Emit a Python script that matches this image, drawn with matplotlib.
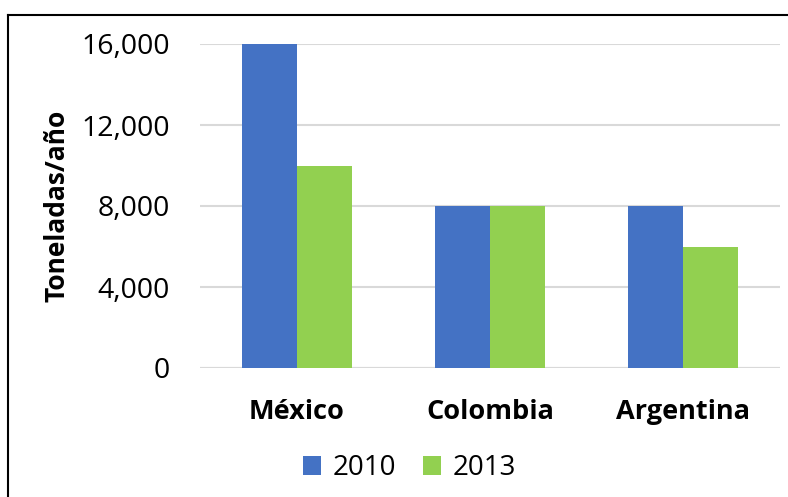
import matplotlib.pyplot as plt
import numpy as np
from matplotlib.lines import Line2D

paises = ['México', 'Colombia', 'Argentina']
anios = ['2010', '2013']
valores_2010 = [16000, 8000, 8000]
valores_2013 = [10000, 8000, 6000]
colores = ['#4472C4', '#92D050']
ticks_y = [0, 4000, 8000, 12000, 16000]

plt.rcParams['font.family'] = ['Open Sans', 'DejaVu Sans']

fig = plt.figure(figsize=(7.88, 4.97), dpi=100)
ax = fig.add_axes([200 / 788, 1 - 368 / 497, 580 / 788, 324 / 497])

x = np.arange(len(paises))
w = 0.285
ax.bar(x - w / 2, valores_2010, w, color=colores[0], label=anios[0], zorder=3)
ax.bar(x + w / 2, valores_2013, w, color=colores[1], label=anios[1], zorder=3)

ax.set_xlim(-0.5, 2.5)
ax.set_ylim(0, 16000)
ax.set_yticks(ticks_y)
ax.set_yticklabels(['{:,}'.format(v) for v in ticks_y], fontsize=20.5)
ax.set_xticks(x)
ax.set_xticklabels(paises, fontsize=19.5, fontweight='bold')
ax.tick_params(axis='y', length=0, pad=21.5)
ax.tick_params(axis='x', length=0, pad=22)
ax.grid(axis='y', color='#D9D9D9', linewidth=1.5, zorder=0)
for s in ax.spines.values():
    s.set_visible(False)
ax.axhline(0, color='#D9D9D9', linewidth=1.5, zorder=1)

ax.set_ylabel('Toneladas/año', fontsize=19, fontweight='bold', labelpad=8)

ax.legend(loc='center', bbox_to_anchor=(-80.5 / 580 + 0.5, -100 / 324), ncol=2,
          frameon=False, fontsize=20, handlelength=0.65, handleheight=0.65,
          handletextpad=0.4, columnspacing=0.97)

# marco exterior
fig.add_artist(Line2D([8 / 788, 8 / 788], [0, 1 - 15 / 497], color='black',
                      linewidth=1.5, transform=fig.transFigure))
fig.add_artist(Line2D([8 / 788, 1], [1 - 15 / 497, 1 - 15 / 497], color='black',
                      linewidth=1.5, transform=fig.transFigure))

fig.savefig('out.png', dpi=100)
